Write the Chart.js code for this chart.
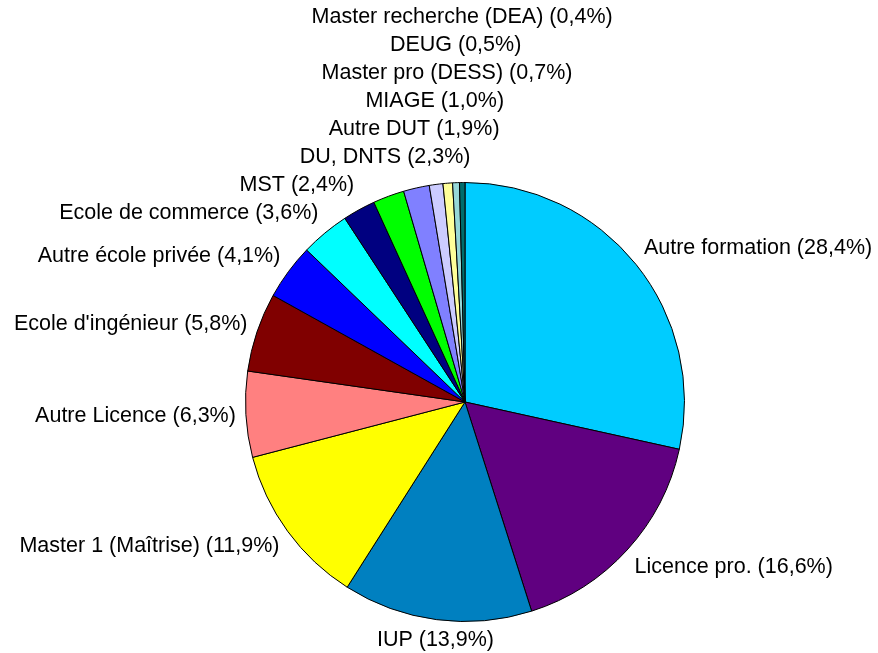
<!DOCTYPE html>
<html>
<head>
<meta charset="utf-8">
<script src="https://cdn.jsdelivr.net/npm/chart.js@4/dist/chart.umd.min.js"></script>
<style>
html,body{margin:0;padding:0;background:#fff;}
#wrap{width:878px;height:653px;position:relative;}
</style>
</head>
<body>
<div id="wrap"><canvas id="c" width="878" height="653"></canvas></div>
<script>
const categories = [
  "Autre formation", "Licence pro.", "IUP", "Master 1 (Maîtrise)", "Autre Licence",
  "Ecole d'ingénieur", "Autre école privée", "Ecole de commerce", "MST", "DU, DNTS",
  "Autre DUT", "MIAGE", "Master pro (DESS)", "DEUG", "Master recherche (DEA)"
];
const percentages = [28.4, 16.6, 13.9, 11.9, 6.3, 5.8, 4.1, 3.6, 2.4, 2.3, 1.9, 1.0, 0.7, 0.5, 0.4];
const sliceColors = [
  "#00CCFF", "#600080", "#0080C0", "#FFFF00", "#FF8080",
  "#800000", "#0000FF", "#00FFFF", "#000080", "#00FF00",
  "#8080FF", "#CCCCFF", "#FFFF99", "#96D7D7", "#006C6C"
];

const FONT = '21.5px "Liberation Sans", Arial, sans-serif';
const LINE = 28;

const labelPlugin = {
  id: 'outLabels',
  afterDatasetsDraw(chart) {
    const ctx = chart.ctx;
    const meta = chart.getDatasetMeta(0);
    ctx.save();
    ctx.font = FONT;
    ctx.fillStyle = '#000';
    ctx.textBaseline = 'middle';
    const items = meta.data.map((arc, i) => {
      const p = arc.getProps(['x','y','startAngle','endAngle','outerRadius'], true);
      const mid = (p.startAngle + p.endAngle) / 2;
      const r = p.outerRadius + 10;
      const ax = p.x + r * Math.cos(mid);
      const ay = p.y + r * Math.sin(mid);
      const s = Math.cos(mid);
      const c = -Math.sin(mid);
      const text = categories[i] + ' (' + percentages[i].toFixed(1).replace('.', ',') + '%)';
      let align, x, y;
      if (Math.abs(s) < 0.42) {
        align = 'center'; x = ax;
        y = c > 0 ? ay - 10 : ay + 10;
      } else {
        align = s > 0 ? 'left' : 'right';
        x = ax;
        y = ay - 16 * c;
      }
      return {text, align, x, y};
    });
    let prevY = null;
    for (let i = 0; i < items.length; i++) {
      const m = meta.data[i];
      const mid = (m.startAngle + m.endAngle) / 2;
      const norm = ((mid + Math.PI/2) % (2*Math.PI) + 2*Math.PI) % (2*Math.PI);
      if (norm > Math.PI) {
        if (prevY !== null && items[i].y > prevY - LINE) items[i].y = prevY - LINE;
        prevY = items[i].y;
      }
    }
    items.forEach(it => {
      ctx.textAlign = it.align;
      ctx.fillText(it.text, it.x, it.y);
    });
    ctx.restore();
  }
};

new Chart(document.getElementById('c'), {
  type: 'pie',
  data: {
    labels: categories,
    datasets: [{
      data: percentages,
      backgroundColor: sliceColors,
      borderColor: '#000',
      borderWidth: 1,
      hoverOffset: 0
    }]
  },
  options: {
    responsive: false,
    animation: false,
    layout: { padding: { left: 245, right: 193, top: 182, bottom: 31 } },
    plugins: { legend: { display: false }, tooltip: { enabled: false } }
  },
  plugins: [labelPlugin]
});
</script>
</body>
</html>
